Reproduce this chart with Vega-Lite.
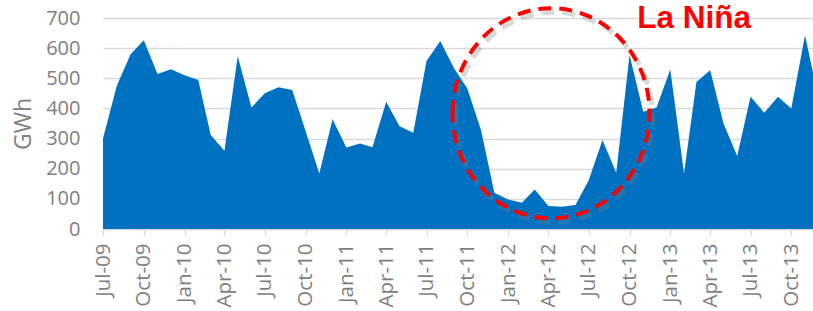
{
  "$schema": "https://vega.github.io/schema/vega-lite/v6.json",
  "width": 710,
  "height": 211,
  "autosize": {"type": "none"},
  "padding": {"left": 103, "top": 18, "right": 0, "bottom": 82},
  "background": "white",
  "config": {
    "view": {"stroke": null},
    "font": "Open Sans"
  },
  "encoding": {
    "x": {
      "field": "date",
      "type": "temporal",
      "scale": {
        "type": "utc",
        "domain": [
          {"year": 2009, "month": 7, "date": 1, "utc": true},
          {"year": 2013, "month": 11, "date": 19, "utc": true}
        ],
        "nice": false
      },
      "axis": {
        "title": null,
        "values": [
          {"year": 2009, "month": 7, "date": 1, "utc": true},
          {"year": 2009, "month": 10, "date": 1, "utc": true},
          {"year": 2010, "month": 1, "date": 1, "utc": true},
          {"year": 2010, "month": 4, "date": 1, "utc": true},
          {"year": 2010, "month": 7, "date": 1, "utc": true},
          {"year": 2010, "month": 10, "date": 1, "utc": true},
          {"year": 2011, "month": 1, "date": 1, "utc": true},
          {"year": 2011, "month": 4, "date": 1, "utc": true},
          {"year": 2011, "month": 7, "date": 1, "utc": true},
          {"year": 2011, "month": 10, "date": 1, "utc": true},
          {"year": 2012, "month": 1, "date": 1, "utc": true},
          {"year": 2012, "month": 4, "date": 1, "utc": true},
          {"year": 2012, "month": 7, "date": 1, "utc": true},
          {"year": 2012, "month": 10, "date": 1, "utc": true},
          {"year": 2013, "month": 1, "date": 1, "utc": true},
          {"year": 2013, "month": 4, "date": 1, "utc": true},
          {"year": 2013, "month": 7, "date": 1, "utc": true},
          {"year": 2013, "month": 10, "date": 1, "utc": true}
        ],
        "tickCount": 30,
        "labelExpr": "utcFormat(datum.value, '%b-%y')",
        "labelAngle": 270,
        "labelAlign": "right",
        "labelBaseline": "middle",
        "labelFontSize": 20.5,
        "labelColor": "#7f7f7f",
        "labelPadding": 8,
        "labelOverlap": false,
        "labelFlush": false,
        "labelBound": false,
        "tickSize": 6,
        "tickColor": "#d9d9d9",
        "tickWidth": 1.3,
        "domainColor": "#d9d9d9",
        "domainWidth": 1.5,
        "grid": false
      }
    },
    "y": {
      "field": "gwh",
      "type": "quantitative",
      "scale": {"domain": [0, 700], "nice": false, "zero": true},
      "axis": {
        "title": "GWh",
        "titleFontSize": 23,
        "titleFontWeight": "normal",
        "titleColor": "#7f7f7f",
        "titlePadding": 10,
        "values": [0, 100, 200, 300, 400, 500, 600, 700],
        "tickCount": 10,
        "labelOverlap": false,
        "labelFlush": false,
        "labelFontSize": 20,
        "labelColor": "#7f7f7f",
        "labelPadding": 23,
        "ticks": false,
        "domain": false,
        "grid": true,
        "gridColor": "#d9d9d9",
        "gridWidth": 1.3
      }
    }
  },
  "layer": [
    {
      "data": {
        "values": [
          {"date": "2009-07-01", "gwh": 300},
          {"date": "2009-08-01", "gwh": 474},
          {"date": "2009-09-01", "gwh": 579},
          {"date": "2009-10-01", "gwh": 626},
          {"date": "2009-11-01", "gwh": 514},
          {"date": "2009-12-01", "gwh": 530},
          {"date": "2010-01-01", "gwh": 510},
          {"date": "2010-02-01", "gwh": 494},
          {"date": "2010-03-01", "gwh": 312},
          {"date": "2010-04-01", "gwh": 260},
          {"date": "2010-05-01", "gwh": 573},
          {"date": "2010-06-01", "gwh": 403},
          {"date": "2010-07-01", "gwh": 450},
          {"date": "2010-08-01", "gwh": 470},
          {"date": "2010-09-01", "gwh": 461},
          {"date": "2010-10-01", "gwh": 325},
          {"date": "2010-11-01", "gwh": 184},
          {"date": "2010-12-01", "gwh": 364},
          {"date": "2011-01-01", "gwh": 270},
          {"date": "2011-02-01", "gwh": 284},
          {"date": "2011-03-01", "gwh": 271},
          {"date": "2011-04-01", "gwh": 422},
          {"date": "2011-05-01", "gwh": 341},
          {"date": "2011-06-01", "gwh": 319},
          {"date": "2011-07-01", "gwh": 557},
          {"date": "2011-08-01", "gwh": 624},
          {"date": "2011-09-01", "gwh": 533},
          {"date": "2011-10-01", "gwh": 466},
          {"date": "2011-11-01", "gwh": 328},
          {"date": "2011-12-01", "gwh": 120},
          {"date": "2012-01-01", "gwh": 98},
          {"date": "2012-02-01", "gwh": 87},
          {"date": "2012-03-01", "gwh": 131},
          {"date": "2012-04-01", "gwh": 76},
          {"date": "2012-05-01", "gwh": 74},
          {"date": "2012-06-01", "gwh": 80},
          {"date": "2012-07-01", "gwh": 162},
          {"date": "2012-08-01", "gwh": 295},
          {"date": "2012-09-01", "gwh": 187},
          {"date": "2012-10-01", "gwh": 577},
          {"date": "2012-11-01", "gwh": 389},
          {"date": "2012-12-01", "gwh": 403},
          {"date": "2013-01-01", "gwh": 529},
          {"date": "2013-02-01", "gwh": 184},
          {"date": "2013-03-01", "gwh": 488},
          {"date": "2013-04-01", "gwh": 527},
          {"date": "2013-05-01", "gwh": 350},
          {"date": "2013-06-01", "gwh": 242},
          {"date": "2013-07-01", "gwh": 439},
          {"date": "2013-08-01", "gwh": 386},
          {"date": "2013-09-01", "gwh": 439},
          {"date": "2013-10-01", "gwh": 400},
          {"date": "2013-11-01", "gwh": 643},
          {"date": "2013-12-01", "gwh": 436}
        ]
      },
      "mark": {"type": "area", "color": "#0070c0", "clip": true, "interpolate": "linear"}
    },
    {
      "data": {"values": [{"date": "2012-04-07", "gwh": 384}]},
      "mark": {
        "type": "point",
        "shape": "M-0.938,0C-0.938,-0.552,-0.518,-1,0,-1C0.518,-1,0.938,-0.552,0.938,0C0.938,0.552,0.518,1,0,1C-0.518,1,-0.938,0.552,-0.938,0Z",
        "size": 44100,
        "filled": false,
        "stroke": "#808080",
        "strokeWidth": 5,
        "strokeOpacity": 0.3,
        "opacity": 1,
        "strokeDash": [13, 8],
        "xOffset": 3,
        "yOffset": 4
      }
    },
    {
      "data": {"values": [{"date": "2012-04-07", "gwh": 384}]},
      "mark": {
        "type": "point",
        "shape": "M-0.938,0C-0.938,-0.552,-0.518,-1,0,-1C0.518,-1,0.938,-0.552,0.938,0C0.938,0.552,0.518,1,0,1C-0.518,1,-0.938,0.552,-0.938,0Z",
        "size": 44100,
        "filled": false,
        "stroke": "#ff0000",
        "strokeWidth": 4,
        "opacity": 1,
        "strokeDash": [13, 8]
      }
    },
    {
      "data": {"values": [{"date": "2013-02-24", "gwh": 668, "label": "La Niña"}]},
      "mark": {
        "type": "text",
        "font": "Liberation Sans",
        "fontSize": 31.5,
        "fontWeight": "bold",
        "color": "#ff0000",
        "align": "center",
        "baseline": "alphabetic"
      },
      "encoding": {
        "text": {"field": "label"}
      }
    }
  ]
}
